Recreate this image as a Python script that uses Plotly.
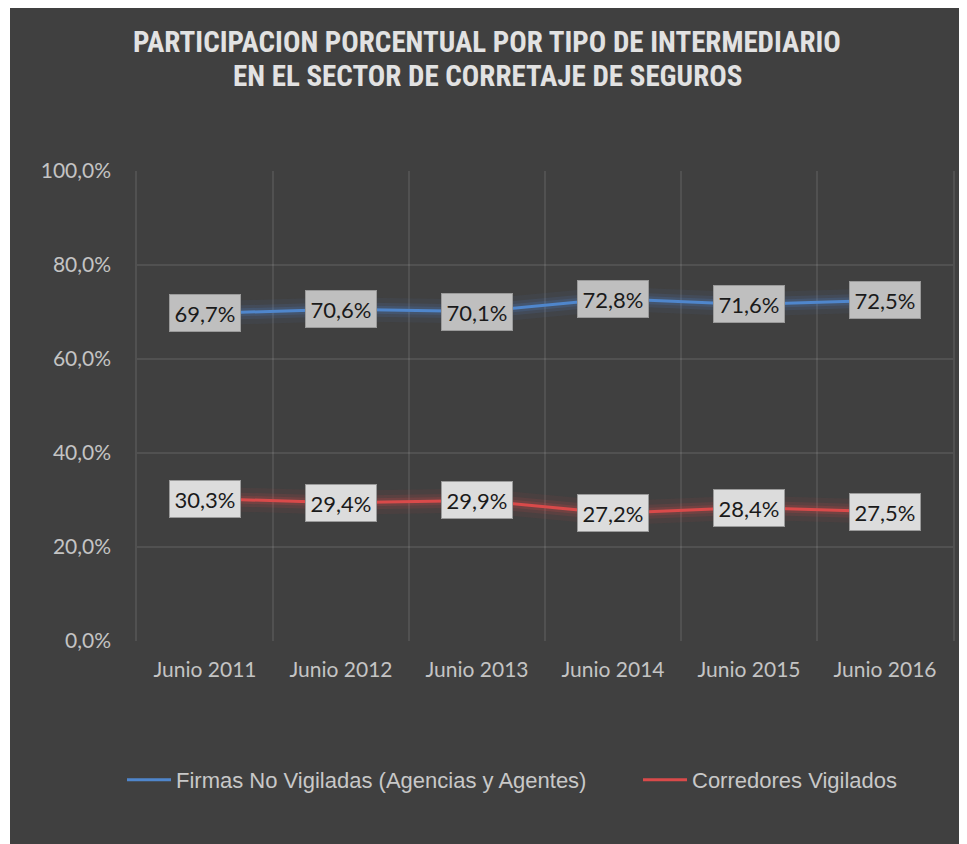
import plotly.graph_objects as go

categories = ["Junio 2011", "Junio 2012", "Junio 2013", "Junio 2014", "Junio 2015", "Junio 2016"]
firmas_no_vigiladas = [0.697, 0.706, 0.701, 0.728, 0.716, 0.725]
corredores_vigilados = [0.303, 0.294, 0.299, 0.272, 0.284, 0.275]
firmas_labels = ["69,7%", "70,6%", "70,1%", "72,8%", "71,6%", "72,5%"]
corredores_labels = ["30,3%", "29,4%", "29,9%", "27,2%", "28,4%", "27,5%"]
y_ticks = [0, 0.2, 0.4, 0.6, 0.8, 1.0]
title_lines = ["PARTICIPACION PORCENTUAL POR TIPO DE INTERMEDIARIO",
               "EN EL SECTOR DE CORRETAJE DE SEGUROS"]
series_names = ["Firmas No Vigiladas (Agencias y Agentes)", "Corredores Vigilados"]

BLUE = "#4f86cc"
RED = "#d94a4a"
BG = "#404040"
GRID = "rgba(255,255,255,0.09)"

# page body has an 8px margin; figure coords = reference coords - 8
W, H = 959, 836
ML, MR, MT, MB = 129, 14, 163, 203
PW, PH = W - ML - MR, H - MT - MB


def px_x(p):
    return (p - ML) / PW


def px_y(p):
    return (H - MB - p) / PH


fig = go.Figure()

# glow layers
for vals, rgb in [(firmas_no_vigiladas, "79,134,204"), (corredores_vigilados, "217,74,74")]:
    for w, a in [(24, 0.07), (14, 0.12), (8, 0.18)]:
        fig.add_trace(go.Scatter(x=categories, y=vals, mode="lines",
                                 line=dict(color=f"rgba({rgb},{a})", width=w),
                                 hoverinfo="skip", showlegend=False))

fig.add_trace(go.Scatter(x=categories, y=firmas_no_vigiladas, mode="lines",
                         name=series_names[0], line=dict(color=BLUE, width=3),
                         legend="legend"))
fig.add_trace(go.Scatter(x=categories, y=corredores_vigilados, mode="lines",
                         name=series_names[1], line=dict(color=RED, width=3),
                         legend="legend2"))

annotations = []
for vals, labels, box in [(firmas_no_vigiladas, firmas_labels, "#bfbfbf"),
                          (corredores_vigilados, corredores_labels, "#dcdcdc")]:
    for c, v, t in zip(categories, vals, labels):
        annotations.append(dict(x=c, y=v, xref="x", yref="y", text=t, showarrow=False,
                                font=dict(family="Lato, Carlito, sans-serif", size=22, color="#1a1a1a"),
                                bgcolor=box, bordercolor="#9a9a9a", borderwidth=1,
                                width=66, height=32, borderpad=2,
                                xanchor="center", yanchor="middle"))

for line, py in zip(title_lines, [34, 68]):
    annotations.append(dict(text=line, x=px_x(479), y=px_y(py), xref="paper", yref="paper",
                            xanchor="center", yanchor="middle", showarrow=False,
                            font=dict(family="Roboto Condensed, Liberation Sans Narrow, Arial Narrow, Liberation Sans",
                                      size=29, color="#e2e2e2", weight="bold")))

legend_font = dict(family="Liberation Sans, Arial, sans-serif", size=22, color="#c8c8c8")

fig.update_layout(
    width=W, height=H,
    margin=dict(l=ML, r=MR, t=MT, b=MB),
    paper_bgcolor=BG, plot_bgcolor=BG,
    separators=",.",
    showlegend=True,
    legend=dict(orientation="h", x=px_x(114), xanchor="left",
                y=px_y(772), yanchor="middle", font=legend_font,
                bgcolor="rgba(0,0,0,0)", itemwidth=44),
    legend2=dict(orientation="h", x=px_x(630), xanchor="left",
                 y=px_y(772), yanchor="middle", font=legend_font,
                 bgcolor="rgba(0,0,0,0)", itemwidth=44),
    annotations=annotations,
    xaxis=dict(type="category", tickson="boundaries", showgrid=True,
               gridcolor=GRID, gridwidth=1.5,
               showline=False, zeroline=False, ticks="", ticklabelstandoff=14,
               tickfont=dict(family="Lato, Carlito, sans-serif", size=21, color="#c4c4c4"),
               range=[-0.5, 5.5]),
    yaxis=dict(range=[0, 1], tickvals=y_ticks, tickformat=".1%", showgrid=True,
               gridcolor=GRID, gridwidth=1.5,
               zeroline=False, showline=True, mirror=True, linecolor=GRID, linewidth=1.5,
               ticks="", ticklabelstandoff=20,
               tickfont=dict(family="Lato, Carlito, sans-serif", size=21, color="#c4c4c4")),
    shapes=[
        dict(type="rect", xref="paper", yref="paper",
             x0=px_x(0), x1=px_x(2), y0=px_y(H), y1=px_y(0),
             fillcolor="white", line=dict(width=0), layer="above"),
    ],
)

fig.write_html("out.html")
